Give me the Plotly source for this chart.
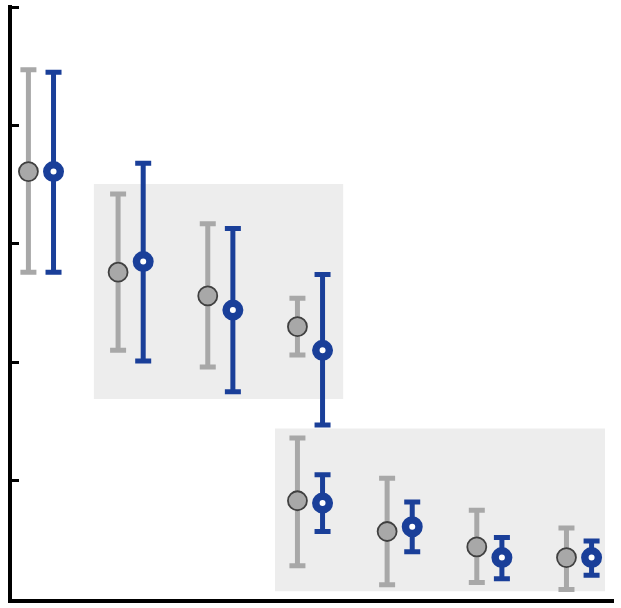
import plotly.graph_objects as go

# Data
group_pos = [0, 1, 2, 3, 3, 4, 5, 6]
gray_mean = [3.61, 2.76, 2.56, 2.30, 0.83, 0.57, 0.44, 0.35]
gray_hi   = [4.47, 3.42, 3.17, 2.54, 1.36, 1.02, 0.75, 0.60]
gray_lo   = [2.76, 2.10, 1.96, 2.06, 0.28, 0.12, 0.14, 0.08]
blue_mean = [3.61, 2.85, 2.44, 2.10, 0.81, 0.61, 0.35, 0.35]
blue_hi   = [4.45, 3.68, 3.13, 2.74, 1.05, 0.82, 0.52, 0.49]
blue_lo   = [2.76, 2.01, 1.75, 1.47, 0.57, 0.40, 0.17, 0.20]
y_ticks   = [1, 2, 3, 4, 5]

# shaded regions (x0, x1, y0, y1) in data units
regions = [(0.59, 3.37, 1.69, 3.505), (2.61, 6.29, 0.065, 1.44)]

off = 0.14
gray_x = [p - off for p in group_pos]
blue_x = [p + off for p in group_pos]

GRAY = "#a8a8a8"
BLUE = "#1a3f99"

fig = go.Figure()
fig.add_trace(go.Scatter(
    x=gray_x, y=gray_mean, mode="markers",
    marker=dict(size=19, color=GRAY, line=dict(color="#404040", width=1.8)),
    error_y=dict(type="data", symmetric=False,
                 array=[h - m for h, m in zip(gray_hi, gray_mean)],
                 arrayminus=[m - l for m, l in zip(gray_mean, gray_lo)],
                 color=GRAY, thickness=5, width=8),
    showlegend=False,
))
fig.add_trace(go.Scatter(
    x=blue_x, y=blue_mean, mode="markers",
    marker=dict(size=13.5, color="white", line=dict(color=BLUE, width=7.5)),
    error_y=dict(type="data", symmetric=False,
                 array=[h - m for h, m in zip(blue_hi, blue_mean)],
                 arrayminus=[m - l for m, l in zip(blue_mean, blue_lo)],
                 color=BLUE, thickness=5, width=8),
    showlegend=False,
))

for x0, x1, y0, y1 in regions:
    fig.add_shape(type="rect", x0=x0, x1=x1, y0=y0, y1=y1,
                  fillcolor="#ededed", line=dict(width=0), layer="below")

fig.update_layout(
    width=621, height=608,
    margin=dict(l=12, r=7, t=5, b=9),
    plot_bgcolor="white", paper_bgcolor="white",
    xaxis=dict(range=[-0.323, 6.39], showgrid=False, zeroline=False,
               showline=True, linecolor="black", linewidth=4,
               showticklabels=False, ticks=""),
    yaxis=dict(range=[0, 5.017], showgrid=False, zeroline=False,
               showline=True, linecolor="black", linewidth=4,
               showticklabels=False, ticks="inside", ticklen=7,
               tickwidth=3, tickcolor="black", tickmode="array",
               tickvals=y_ticks),
)

fig.write_html("out.html")
